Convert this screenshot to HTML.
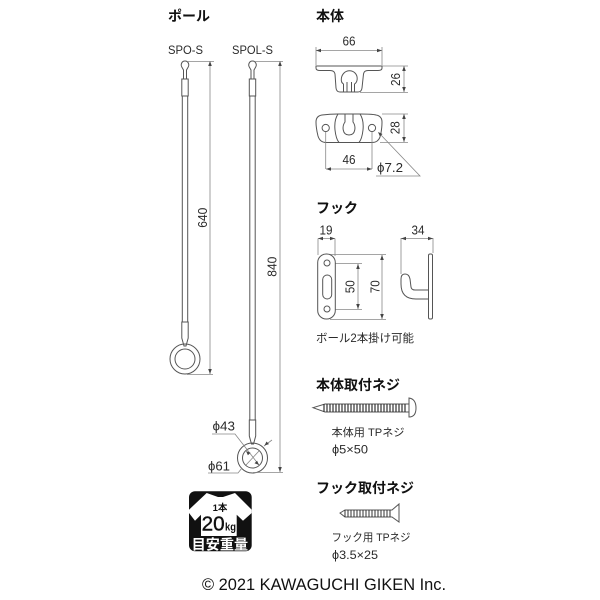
<!DOCTYPE html>
<html><head><meta charset="utf-8"><style>
html,body{margin:0;padding:0;background:#fff}
svg{display:block}
text{font-family:"Liberation Sans","Noto Sans CJK JP",sans-serif;fill:#2a2a2a}
.t{font-size:14px;font-weight:700;fill:#111}
.d{font-size:13px}
.c{font-size:11.500px}
.s{stroke:#555;stroke-width:1;fill:none}
.p{stroke:#555;stroke-width:1;fill:#fff}
.l{stroke:#888;stroke-width:.8;fill:none}
.a{fill:#444;stroke:none}
</style></head><body>
<svg width="600" height="600" viewBox="0 0 600 600" xmlns="http://www.w3.org/2000/svg">
<defs>
<g id="pole-top">
<path class="p" d="M-1.500 70 L-3.200 67 C-4.500 65 -3.500 61 0 61 C3.500 61 4.500 65 3.200 67 L1.500 70 L1.500 79 L-1.500 79Z"/>
<rect class="p" x="-3.200" y="79" width="6.400" height="17"/>
</g>
</defs>

<text class="t" x="168" y="21">ポール</text>
<text x="168" y="54" font-size="11.500" textLength="35" lengthAdjust="spacingAndGlyphs">SPO-S</text>
<text x="232" y="54" font-size="11.500" textLength="41" lengthAdjust="spacingAndGlyphs">SPOL-S</text>

<!-- Pole 1 -->
<g transform="translate(185,0)">
<rect class="p" x="-2.700" y="96" width="5.400" height="226"/>
<use href="#pole-top"/>
<path class="p" d="M-3.200 322 L3.200 322 L3.200 338 L1 346 L-1 346 L-3.200 338Z"/>
<circle class="s" cx="0" cy="359" r="15" stroke-width="1.100"/>
<circle class="s" cx="0" cy="359" r="10"/>
</g>
<path class="l" d="M188 61.500H214M210 62V374M187 374.500H213"/>
<path class="a" d="M210 61l-1.800 5h3.600zM210 374l-1.800-5h3.600z"/>
<text class="d" transform="translate(207,227.700) rotate(-90)" textLength="20" lengthAdjust="spacingAndGlyphs">640</text>

<!-- Pole 2 -->
<g transform="translate(252.500,0)">
<rect class="p" x="-2.700" y="96" width="5.400" height="324"/>
<use href="#pole-top"/>
<path class="p" d="M-3.200 420 L3.200 420 L3.200 436 L1 444 L-1 444 L-3.200 436Z"/>
<circle class="s" cx="0" cy="458" r="15" stroke-width="1.100"/>
<circle class="s" cx="0" cy="458" r="10"/>
</g>
<path class="l" d="M255 61.500H283M280 62V472M253 472.500H283"/>
<path class="a" d="M280 61l-1.800 5h3.600zM280 472l-1.800-5h3.600z"/>
<text class="d" transform="translate(276.700,276.700) rotate(-90)" textLength="20" lengthAdjust="spacingAndGlyphs">840</text>

<text class="d" x="212.500" y="430.700" textLength="22.500" lengthAdjust="spacingAndGlyphs">ϕ43</text>
<text class="d" x="208" y="470.700" textLength="22" lengthAdjust="spacingAndGlyphs">ϕ61</text>
<path class="l" d="M212 434H235L259 465M208 473H238L242 468M272 440L264 446"/>
<path class="l" d="M259 451L246 465"/>
<path class="a" d="M246 451l4.500 1.800-2.600 2.400zM259 465l-4.500-1.800 2.600-2.400zM264.500 445.500l2-4 2.500 2.600z"/>

<!-- 本体 -->
<text class="t" x="316" y="21">本体</text>
<text class="d" x="342.500" y="45.700" textLength="13" lengthAdjust="spacingAndGlyphs">66</text>
<path class="l" d="M316 47V65M382 47V65M316 50.500H382M382 66H408M360 92.500H408M404 66V92M382 114H408M380 142.500H408M404 114V142"/>
<path class="a" d="M316 50.500l5-1.800v3.600zM382 50.500l-5-1.800v3.600zM404 66l-1.800 5h3.600zM404 92l-1.800-5h3.600zM404 114l-1.800 5h3.600zM404 142l-1.800-5h3.600z"/>
<text class="d" transform="translate(400,86) rotate(-90)" textLength="13" lengthAdjust="spacingAndGlyphs">26</text>
<text class="d" transform="translate(399.500,134.300) rotate(-90)" textLength="13" lengthAdjust="spacingAndGlyphs">28</text>
<path class="p" d="M316 66H382V68Q382 70.500 378 70.500H368Q364 70.500 363.500 74L362 88Q361.500 92 358 92H340Q336.500 92 336 88L335 74Q334.500 70.500 330 70.500H320Q316 70.500 316 68Z"/>
<path class="s" d="M343.500 92V84C340 82 341 76 344 73C347 70 352 70 355 73C358 76 358 82 354.500 84V92"/>
<path class="s" d="M347 92V82M351.500 92V82"/>
<path class="p" d="M322 115Q330 114 338 114H360Q372 114 376 115Q382 116 382 122Q382 130 380 137Q378 142.500 372 142.500H326Q320 142.500 318 136Q316 128 316 122Q316 116 322 115Z"/>
<path class="s" d="M338 114Q334 120 335 130Q336 139 339 142.500M360 114Q364 120 363 130Q362 139 359 142.500"/>
<path class="s" d="M345 114V122C342 126 342 135 349 135C356 135 356 126 353 122V114"/>
<circle class="p" cx="325.700" cy="128" r="3.600"/>
<circle class="p" cx="372" cy="128" r="3.600"/>
<path class="l" d="M325.700 132V169M372 132V169M326 169H372"/>
<path class="a" d="M326 169l5-1.800v3.600zM372 169l-5-1.800v3.600z"/>
<text class="d" x="342.500" y="164" textLength="13" lengthAdjust="spacingAndGlyphs">46</text>
<text class="d" x="377" y="172" textLength="26" lengthAdjust="spacingAndGlyphs">ϕ7.2</text>
<path class="l" d="M376 176H420L380 134"/>
<path class="a" d="M378 132l4.500 2-2.600 2.400z"/>

<!-- フック -->
<text class="t" x="316" y="213">フック</text>
<text class="d" x="319.500" y="234.300" textLength="13" lengthAdjust="spacingAndGlyphs">19</text>
<text class="d" x="411.500" y="234.300" textLength="13" lengthAdjust="spacingAndGlyphs">34</text>
<path class="l" d="M318 238.500V255M335 238.500V256M318 238.500H335M401 238.500H433M401 238V274M433 238V253M330 254.500H386M330 319.500H386M330 263.500H362M330 309.500H362M358 264V309M382 255V319"/>
<path class="a" d="M318 238.500l5-1.800v3.600zM335 238.500l-5-1.800v3.600zM401 238.500l5-1.800v3.600zM433 238.500l-5-1.800v3.600zM358 264l-1.800 5h3.600zM358 309l-1.800-5h3.600zM382 255l-1.800 5h3.600zM382 319l-1.800-5h3.600z"/>
<rect class="p" x="317.700" y="254" width="17.600" height="65" rx="8.500"/>
<circle class="s" cx="327" cy="263" r="3" stroke-width="1.500"/>
<circle class="s" cx="327" cy="309" r="3" stroke-width="1.500"/>
<rect class="p" x="322.700" y="275" width="9" height="24" rx="4.500"/>
<text class="d" transform="translate(354.500,293.300) rotate(-90)" textLength="13" lengthAdjust="spacingAndGlyphs">50</text>
<text class="d" transform="translate(379.500,293.300) rotate(-90)" textLength="13" lengthAdjust="spacingAndGlyphs">70</text>
<rect class="p" x="428.500" y="254" width="4" height="65" rx="1.500"/>
<path class="p" d="M428.500 290H415Q411.500 290 411 287L410 279Q409 274 405 274Q401 274 401 279V284Q401 299 416 299H428.500Z"/>
<text x="316" y="342" font-size="11.500" textLength="98" lengthAdjust="spacingAndGlyphs">ボール2本掛け可能</text>

<!-- 本体取付ネジ -->
<text class="t" x="316" y="390">本体取付ネジ</text>
<path class="p" d="M313 407.700L325 404H409V412H325Z"/>
<path stroke="#333" stroke-width="1.200" fill="none" d="M324 404v8M327 404v8M330 404v8M333 404v8M336 404v8M339 404v8M342 404v8M345 404v8M348 404v8M351 404v8M354 404v8M357 404v8M360 404v8M363 404v8M366 404v8M369 404v8M372 404v8M375 404v8M378 404v8M381 404v8M384 404v8M387 404v8M390 404v8M393 404v8M396 404v8M399 404v8M402 404v8M405 404v8"/>
<path class="p" d="M409 398Q416 399 416 408Q416 417 409 417Z"/>
<text x="331.500" y="436" font-size="11" textLength="73" lengthAdjust="spacingAndGlyphs">本体用 TPネジ</text>
<text x="332" y="453.500" font-size="12" textLength="36" lengthAdjust="spacingAndGlyphs">ϕ5×50</text>

<!-- フック取付ネジ -->
<text class="t" x="316" y="493">フック取付ネジ</text>
<path class="p" d="M340 513L345 510H392L399 504V522L392 517H345Z"/>
<path stroke="#333" stroke-width="1" fill="none" d="M345 510v7M348 510v7M351 510v7M354 510v7M357 510v7M360 510v7M363 510v7M366 510v7M369 510v7M372 510v7M375 510v7M378 510v7M381 510v7M384 510v7M387 510v7M390 510v7"/>
<text x="331.500" y="541" font-size="11" textLength="79" lengthAdjust="spacingAndGlyphs">フック用 TPネジ</text>
<text x="332" y="559" font-size="12" textLength="46" lengthAdjust="spacingAndGlyphs">ϕ3.5×25</text>

<!-- Badge -->
<rect x="189" y="491.300" width="62.700" height="60" rx="6" fill="#111"/>
<path fill="#fff" d="M189 509.700L206.700 493L218 497H223L235 493L251.700 509.700V513L243 520.700L236.700 514.700V536H201V514.700L195 520.700L189 513Z"/>
<text x="220" y="511" text-anchor="middle" style="font-size:9.500px;font-weight:700;fill:#111">1本</text>
<text x="201.700" y="530.500" style="font-size:20.500px;fill:#111;stroke:#111;stroke-width:.4" textLength="23" lengthAdjust="spacingAndGlyphs">20</text>
<text x="225" y="530.500" style="font-size:11px;font-weight:700;fill:#111" textLength="11" lengthAdjust="spacingAndGlyphs">kg</text>
<text x="191.700" y="549.500" style="font-size:14px;fill:#fff;font-weight:700" textLength="56.500" lengthAdjust="spacingAndGlyphs">目安重量</text>

<text x="202" y="590" style="font-size:16.400px;fill:#111" textLength="244" lengthAdjust="spacingAndGlyphs">© 2021 KAWAGUCHI GIKEN Inc.</text>
</svg>
</body></html>
